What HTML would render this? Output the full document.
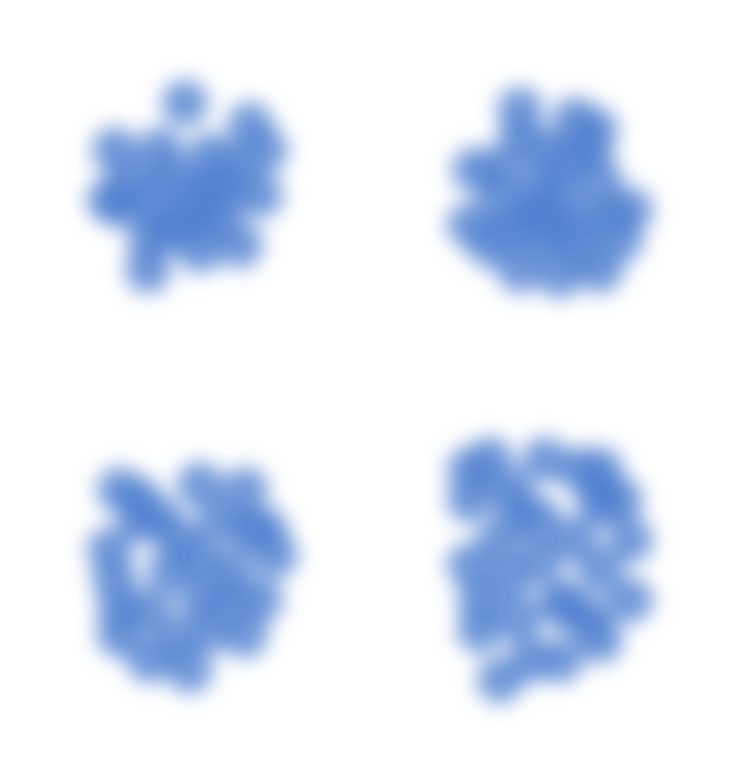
<!DOCTYPE html>
<html><head><meta charset="utf-8"><style>
html,body{margin:0;padding:0;background:#fff;}
svg{display:block;}
</style></head><body>
<svg id="chart" width="749" height="775" viewBox="0 0 749 775">
<defs><filter id="blur" x="-50%" y="-50%" width="200%" height="200%"><feGaussianBlur stdDeviation="10"/></filter></defs>
<g id="marks" filter="url(#blur)"></g>
</svg>
<script>
const clusterNames = ["top-left","top-right","bottom-left","bottom-right"];
const xValues = [
 [185,115,250,265,160,210,120,150,190,230,260,200,240,148,180,220,130,170,210,110,235,200,165,150],
 [520,595,475,630,545,500,560,600,490,540,580,600,520,620,570,470,530,610,520,560,500,590,540,560,580,540,510,575],
 [120,245,200,160,220,110,275,115,170,230,260,200,120,150,190,245,210,150,180,265,140,200,230,175,120,140,250],
 [490,545,600,470,520,600,630,470,540,600,630,480,520,570,500,560,600,510,540,470,620,575,500,560,590,530,480,510,600,580]
];
const yValues = [
 [103,150,125,150,150,155,205,200,195,190,195,250,245,270,230,220,180,175,185,200,165,215,225,240],
 [110,130,170,210,150,200,190,180,245,240,250,270,270,240,160,225,215,215,140,230,170,150,185,275,220,210,230,120],
 [490,490,485,520,520,550,555,580,570,570,600,600,635,660,670,635,630,610,540,530,500,560,600,640,610,520,530],
 [460,460,470,500,510,505,540,565,560,570,600,630,620,610,680,660,640,580,520,470,500,540,540,600,620,660,600,490,490,470]
];
const xScale = v => v * 1;
const yScale = v => v * 1;
const g = document.getElementById('marks');
const NS = 'http://www.w3.org/2000/svg';
clusterNames.forEach((name, ci) => {
  xValues[ci].forEach((xv, i) => {
    const c = document.createElementNS(NS, 'circle');
    c.setAttribute('cx', xScale(xv));
    c.setAttribute('cy', yScale(yValues[ci][i]));
    c.setAttribute('r', 23);
    c.setAttribute('fill', '#4f80d0');
    c.setAttribute('fill-opacity', '0.8');
    
    
    g.appendChild(c);
  });
});
</script>
</body></html>
